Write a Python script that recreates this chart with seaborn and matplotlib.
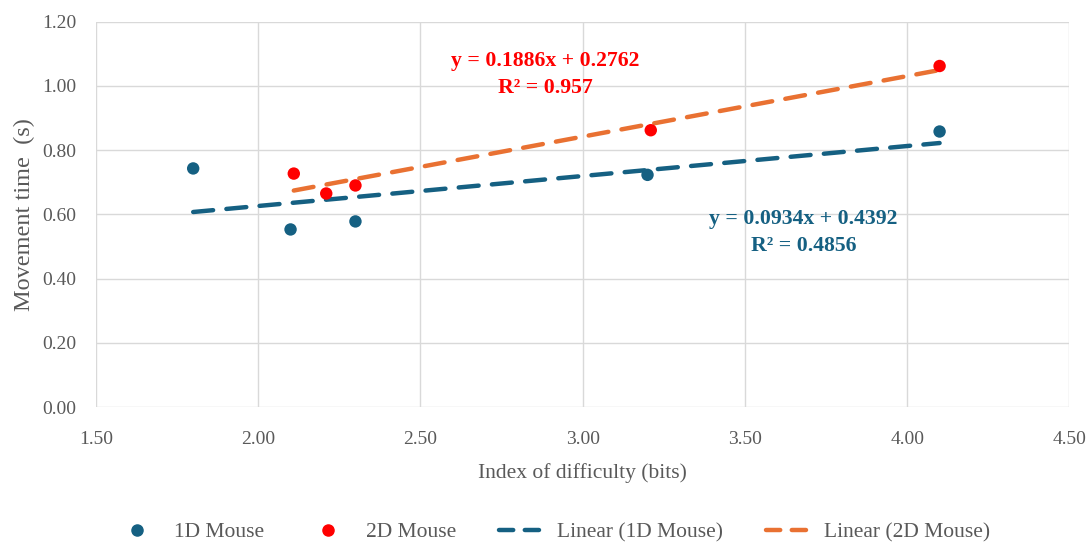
import numpy as np
import pandas as pd
import seaborn as sns
import matplotlib.pyplot as plt
from matplotlib.lines import Line2D

# 数据：难度指数 (bits) 与 移动时间 (s)
id_1d = [1.80, 2.10, 2.30, 3.20, 4.10]
mt_1d = [0.743, 0.553, 0.578, 0.723, 0.858]
id_2d = [2.11, 2.21, 2.30, 3.21, 4.10]
mt_2d = [0.727, 0.665, 0.690, 0.862, 1.062]

# 趋势线系数 (图中标注)
slope_1d, inter_1d, r2_1d = 0.0934, 0.4392, 0.4856
slope_2d, inter_2d, r2_2d = 0.1886, 0.2762, 0.957

blue = '#156082'
red = '#ff0000'
orange = '#e97132'
grey = '#595959'

sns.set_theme(style='white')
plt.rcParams['font.family'] = ['Liberation Serif', 'DejaVu Serif']

df = pd.DataFrame({
    'id': id_1d + id_2d,
    'mt': mt_1d + mt_2d,
    'device': ['1D Mouse'] * len(id_1d) + ['2D Mouse'] * len(id_2d),
})

# 趋势线
x1 = np.array([min(id_1d), max(id_1d)])
x2 = np.array([min(id_2d), max(id_2d)])
trend = pd.DataFrame({
    'id': list(x1) + list(x2),
    'mt': list(slope_1d * x1 + inter_1d) + list(slope_2d * x2 + inter_2d),
    'fit': ['Linear (1D Mouse)'] * 2 + ['Linear (2D Mouse)'] * 2,
})

fig, ax = plt.subplots(figsize=(10.89, 5.42), dpi=100)
fig.subplots_adjust(left=0.088, right=0.982, top=0.96, bottom=0.249)

sns.scatterplot(data=df, x='id', y='mt', hue='device',
                palette={'1D Mouse': blue, '2D Mouse': red},
                s=80, edgecolor='none', ax=ax, legend=False, zorder=3)
sns.lineplot(data=trend, x='id', y='mt', hue='fit',
             palette={'Linear (1D Mouse)': blue, 'Linear (2D Mouse)': orange},
             linewidth=3.2, ax=ax, legend=False)
for line in ax.lines:
    line.set_dashes([4.5, 3])
    line.set_dash_capstyle('round')

ax.set_xlim(1.5, 4.5)
ax.set_ylim(0, 1.2)
ax.set_xticks(np.arange(1.5, 4.51, 0.5))
ax.set_yticks(np.arange(0, 1.21, 0.2))
ax.xaxis.set_major_formatter(plt.FormatStrFormatter('%.2f'))
ax.yaxis.set_major_formatter(plt.FormatStrFormatter('%.2f'))
ax.tick_params(axis='both', labelsize=14, colors=grey, length=0)
ax.tick_params(axis='x', pad=17)
ax.tick_params(axis='y', pad=14)
ax.grid(True, color='#d9d9d9', linewidth=1)
sns.despine(ax=ax, left=True, bottom=True, top=True, right=True)

ax.set_xlabel('Index of difficulty (bits)', fontsize=15.5, color=grey, labelpad=11)
ax.set_ylabel('Movement time  (s)', fontsize=17.5, color=grey, labelpad=5)

ax.text(2.886, 1.035, f'y = {slope_2d}x + {inter_2d}\nR² = {r2_2d}', color=red,
        fontsize=15.7, fontweight='bold', ha='center', va='center', linespacing=1.5)
ax.text(3.68, 0.543, f'y = {slope_1d}x + {inter_1d}\nR² = {r2_1d}', color=blue,
        fontsize=15.7, fontweight='bold', ha='center', va='center', linespacing=1.5)

handles = [
    Line2D([], [], marker='o', color=blue, linestyle='none', markersize=8),
    Line2D([], [], marker='o', color=red, linestyle='none', markersize=8),
    Line2D([], [], color=blue, linewidth=3.2, dashes=[3.2, 2.6], dash_capstyle='round'),
    Line2D([], [], color=orange, linewidth=3.2, dashes=[3.2, 2.6], dash_capstyle='round'),
]
labels = ['1D Mouse', '2D Mouse', 'Linear (1D Mouse)', 'Linear (2D Mouse)']
fig.legend(handles, labels, loc='center', bbox_to_anchor=(0.508, 0.018), ncol=4,
           frameon=False, fontsize=15.5, labelcolor=grey,
           columnspacing=2.0, handlelength=1.9, handletextpad=0.8)

plt.savefig('out.png', dpi=100)
